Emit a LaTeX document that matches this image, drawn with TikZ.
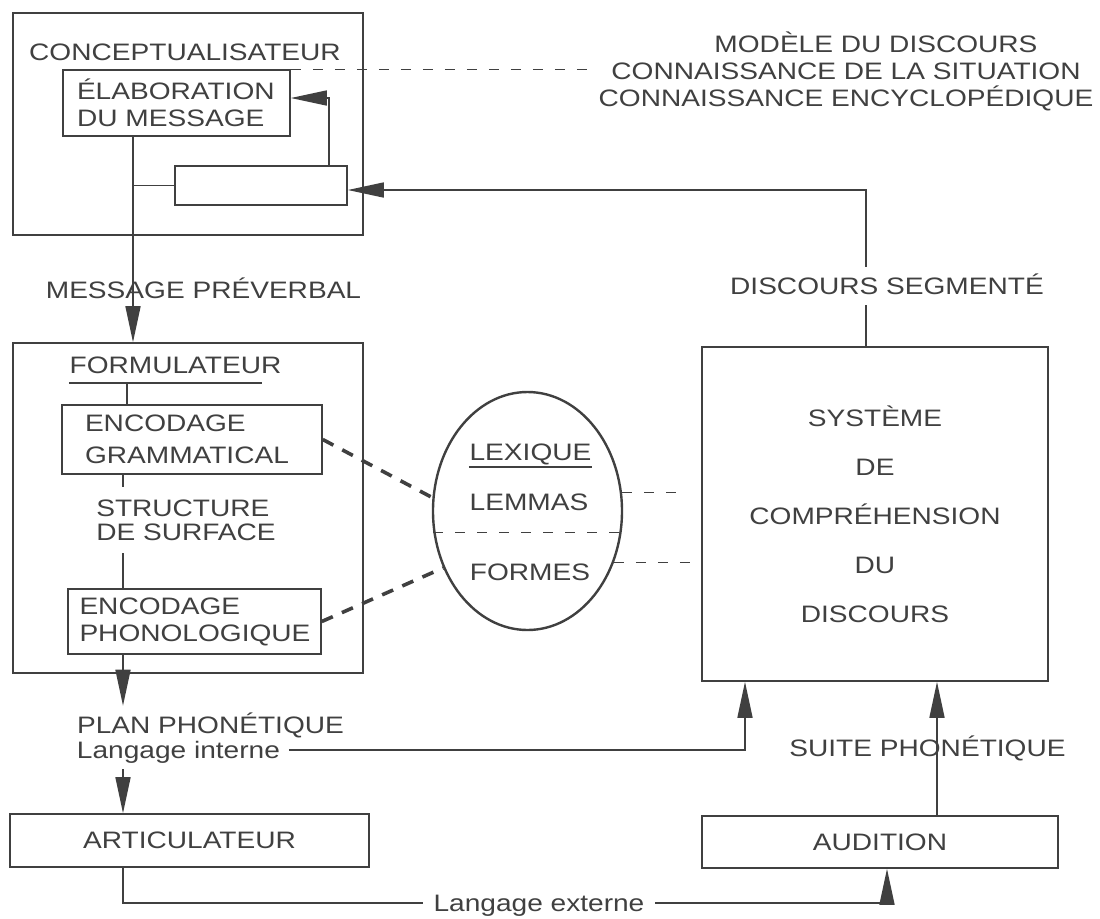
\documentclass[tikz,border=0pt]{standalone}
\usepackage{fontspec}
\setmainfont[FakeStretch=1.18]{Liberation Sans}
\usetikzlibrary{arrows.meta,shapes.geometric}

\begin{document}
\begin{tikzpicture}[x=0.5pt, y=-0.5pt, black!75, line width=0.8pt,
    font=\fontsize{11.9pt}{13.5pt}\selectfont,
    txt/.style={inner sep=0pt, text height=8.5pt, text depth=0pt},
    boite/.style={draw, rectangle, inner sep=0pt},
    fleche/.style={-{Triangle[length=18pt, width=7.5pt]}},
    tiret/.style={line width=0.6pt, dash pattern=on 5pt off 6pt},
    gras/.style={line width=1.8pt, dash pattern=on 6pt off 5pt}]
    \useasboundingbox (0,0) rectangle (1100,918);

    \coordinate (axeA) at (133,0);
    \coordinate (axeF) at (127,0);
    \coordinate (axeS) at (123,0);
    \coordinate (retour) at (329,98);
    \coordinate (axeD) at (866,190);
    \coordinate (axeI) at (745,0);
    \coordinate (axeP) at (937,0);
    \coordinate (axeE) at (887,0);

    \node[boite, minimum width=175pt, minimum height=111pt] (concept) at (188,124) {};
    \node[txt] (concepttitre) at (185,52) {CONCEPTUALISATEUR};
    \node[boite, minimum height=33pt, inner xsep=7pt, text width=99.5pt, align=left] (elab) at (176.5,103) {ÉLABORATION\\DU MESSAGE};
    \node[boite, minimum width=86pt, minimum height=19.5pt] (moniteur) at (261,185.5) {};
    \node[inner sep=0pt, align=center] (savoirs) at (846,71) {\hspace*{30pt}MODÈLE DU DISCOURS\\CONNAISSANCE DE LA SITUATION\\CONNAISSANCE ENCYCLOPÉDIQUE};
    \node[txt] (message) at (203.5,290) {MESSAGE PRÉVERBAL};
    \node[txt] (segment) at (887,286) {DISCOURS SEGMENTÉ};

    \node[boite, minimum width=175pt, minimum height=165pt] (formul) at (188,508) {};
    \node[txt] (formtitre) at (175.5,365) {FORMULATEUR};
    \node[boite, minimum height=34.5pt, inner xsep=11.5pt, text width=107pt, align=left] (encgram) at (192,439.5) {ENCODAGE\\[2.5pt]GRAMMATICAL};
    \node[inner sep=0pt, align=left] (structure) at (186,520) {STRUCTURE\\[-1.5pt]DE SURFACE};
    \node[boite, minimum height=32.5pt, inner xsep=5.75pt, text width=115pt, align=left] (encphon) at (194.5,621.5) {ENCODAGE\\PHONOLOGIQUE};

    \node[draw, ellipse, line width=1.2pt, minimum width=94.5pt, minimum height=119pt, inner sep=0pt] (lexique) at (527.5,511) {};
    \node[txt] (lexititre) at (530.5,452) {LEXIQUE};
    \node[txt] (lemmas) at (529,502) {LEMMAS};
    \node[txt] (formes) at (530,572) {FORMES};

    \node[boite, minimum width=173pt, minimum height=167pt, align=center] (systeme) at (875,514) {SYSTÈME\\[11pt]DE\\[11pt]COMPRÉHENSION\\[11pt]DU\\[11pt]DISCOURS};

    \node[txt] (plan) at (210.5,725) {PLAN PHONÉTIQUE};
    \node[txt] (interne) at (178.5,750) {Langage interne};
    \node[txt] (suite) at (927.5,748) {SUITE PHONÉTIQUE};
    \node[boite, minimum width=179.5pt, minimum height=26.5pt] (artic) at (189.5,840.5) {ARTICULATEUR};
    \node[boite, minimum width=178pt, minimum height=26pt] (audition) at (880,842) {AUDITION};
    \node[txt] (externe) at (539,903) {Langage externe};

    \draw[fleche] (elab.south -| axeA) -- (formul.north -| axeA);
    \draw (moniteur.west) -- (moniteur.west -| axeA);
    \draw[fleche] (moniteur.north -| retour) |- (elab.east |- retour);
    \draw[tiret] (elab.north east) -- (elab.north east -| savoirs.west);
    \draw[shorten >=5pt] (systeme.north -| axeD) -- (segment.south -| axeD);
    \draw[fleche, shorten <=5pt] (segment.north -| axeD) |- (moniteur.east |- axeD);

    \coordinate (souligne) at ([yshift=-4.25pt]formtitre.south west);
    \draw (souligne) -- ++(193,0);
    \draw (souligne -| axeF) -- (encgram.north -| axeF);
    \draw[shorten >=6pt] (encgram.south -| axeS) -- (structure.north -| axeS);
    \draw[shorten <=6pt] (structure.south -| axeS) -- (encphon.north -| axeS);
    \draw[fleche, shorten >=5pt] (encphon.south -| axeS) -- (plan.north -| axeS);
    \draw[fleche, shorten <=5pt] (interne.south -| axeS) -- (artic.north -| axeS);
    \draw[fleche, shorten <=4pt] (interne.east) -| (systeme.south -| axeI);
    \draw[shorten >=5pt] (artic.south -| axeS) |- (externe.west);
    \draw[fleche, shorten <=5pt] (externe.east) -| (audition.south -| axeE);
    \draw[fleche] (audition.north -| axeP) -- (systeme.south -| axeP);

    \draw ([yshift=-2.75pt]lexititre.south west) -- ([yshift=-2.75pt]lexititre.south east);
    \draw[gras] (encgram.east) -- (lexique.172);
    \draw[gras] (encphon.east) -- (lexique.214);
    \draw[tiret] (lexique.193) -- (lexique.347);
    \draw[tiret, shorten >=8.5pt] (lexique.11) -- (lexique.11 -| systeme.west);
    \draw[tiret] (lexique.329) -- (lexique.329 -| systeme.west);
\end{tikzpicture}
\end{document}
